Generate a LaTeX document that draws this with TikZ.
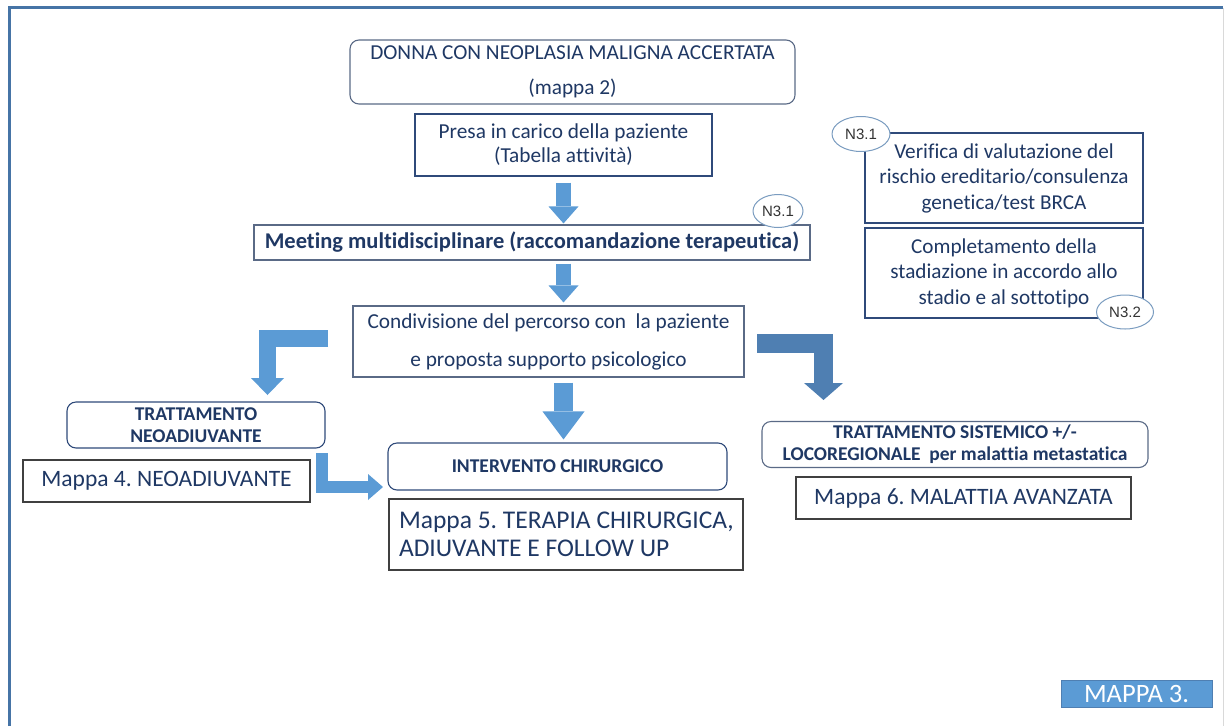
\documentclass[tikz,border=0pt]{standalone}
\usepackage{fontspec}
\setmainfont{Carlito}[Ligatures=CommonOff]
\newfontfamily\arialf{Liberation Sans}
\usetikzlibrary{arrows.meta,calc,shapes.geometric}
\definecolor{txt}{HTML}{1F3864}
\definecolor{abl}{HTML}{5B9BD5}
\definecolor{abd}{HTML}{4F7FB2}
\definecolor{frm}{HTML}{4674A6}
\definecolor{bnv}{HTML}{2F4A7A}
\definecolor{bgr}{HTML}{5A6A86}
\definecolor{ellc}{HTML}{7A9CC0}
\newcommand{\fs}[2]{\fontsize{#1}{#2}\selectfont}
\frenchspacing
\begin{document}
\begin{tikzpicture}[x=1pt,y=-1pt,
  box/.style={draw=bnv, line width=1.1pt, fill=white, inner sep=0pt, text=txt, align=center},
  rbox/.style={box, rounded corners=9pt},
  mbox/.style={draw=black!75, line width=1.1pt, fill=white, inner sep=0pt, text=txt, align=center},
  tag/.style={draw=ellc, line width=1pt, fill=white, ellipse, inner sep=0pt, text=black!80, font=\arialf\fs{15}{17}},
  fat/.style={draw=abl, line width=#1, line join=miter},
]
\useasboundingbox (0,0) rectangle (1225,726);
% frame
\draw[draw=black!15, line width=1pt] (1223,8) -- (1223,726);
\draw[draw=frm, line width=3.5pt] (9.5,726) -- (9.5,7.5) -- (1223,7.5);

% main column
\node[rbox, draw=bgr, minimum width=445pt, minimum height=64pt, font=\fs{21.3}{24}] (donna) at (572.5,72)
  {DONNA CON NEOPLASIA MALIGNA ACCERTATA\\[11pt](mappa 2)};
\node[box, minimum width=297pt, minimum height=62pt, font=\fs{21.3}{24}] (presa) at (563.5,145)
  {Presa in carico della paziente\\(Tabella attività)};
\node[box, draw=bgr, minimum width=556pt, minimum height=35pt, font=\bfseries\fs{22.5}{25}] (meeting) at (532,242.5)
  {Meeting multidisciplinare (raccomandazione terapeutica)};
\node[tag, minimum width=50pt, minimum height=33pt] (n31a) at (778,211) {N3.1};
\node[box, draw=bgr, minimum width=391pt, minimum height=71pt, font=\fs{21.3}{24}] (cond) at (548.5,341.5)
  {Condivisione del percorso con\ \ la paziente\\[14pt]e proposta supporto psicologico};

% left branch
\node[rbox, minimum width=258pt, minimum height=46pt, font=\bfseries\fs{19.5}{22}] (neo) at (196,425)
  {TRATTAMENTO\\NEOADIUVANTE};
\node[mbox, minimum width=287pt, minimum height=42pt, font=\fs{23.5}{27}] (m4) at (166.5,481)
  {Mappa 4. NEOADIUVANTE};

% center branch
\node[rbox, minimum width=339pt, minimum height=47pt, font=\bfseries\fs{19.5}{22}] (interv) at (557.5,466.5)
  {INTERVENTO CHIRURGICO};
\node[mbox, minimum width=354pt, minimum height=71pt, font=\fs{25.5}{27.5}] (m5) at (566,534.5)
  {\makebox[334pt][l]{Mappa 5. TERAPIA CHIRURGICA,}\\\makebox[334pt][l]{ADIUVANTE E FOLLOW UP}};

% right branch
\node[rbox, draw=bgr, minimum width=386pt, minimum height=46pt, font=\bfseries\fs{19.5}{22}] (sist) at (955,444.5)
  {TRATTAMENTO SISTEMICO +/-\\LOCOREGIONALE\ \ per malattia metastatica};
\node[mbox, minimum width=335pt, minimum height=42pt, font=\fs{23.5}{27}] (m6) at (963.5,498)
  {Mappa 6. MALATTIA AVANZATA};

% right side boxes
\node[box, minimum width=278pt, minimum height=90pt, font=\fs{21.2}{25.5}] (ver) at (1004,178)
  {Verifica di valutazione del\\rischio ereditario/consulenza\\genetica/test BRCA};
\node[box, minimum width=278pt, minimum height=90pt, font=\fs{21.2}{25.5}] (compl) at (1004,273)
  {Completamento della\\stadiazione in accordo allo\\stadio e al sottotipo};
\node[tag, minimum width=58pt, minimum height=35pt] (n31b) at (861,134) {N3.1};
\node[tag, minimum width=57pt, minimum height=34pt] (n32) at (1125,312) {N3.2};

% label
\node[fill=abl, draw=abd, line width=0.6pt, minimum width=151pt, minimum height=27pt, inner sep=0pt, text=white, font=\fs{26.5}{28}] (m3) at (1136.5,693.5) {MAPPA 3.};

% arrows
\coordinate (lbS) at (328,338.5);
\coordinate (lbE) at (267.5,395);
\coordinate (rbS) at (757,343.5);
\coordinate (rbE) at (823.5,400);
\coordinate (sbS) at (322,453);
\coordinate (sbE) at (383,487);

\draw[fat=15pt, -{Triangle[width=30pt,length=17pt,line width=0pt]}]
  ($(presa.south)+(0,6)$) -- ($(presa.south |- meeting.north)+(0,-1)$);
\draw[fat=15pt, -{Triangle[width=30pt,length=17pt,line width=0pt]}]
  ($(presa.south |- meeting.south)+(0,3)$) -- ($(presa.south |- cond.north)+(0,-3)$);
\draw[fat=19pt, -{Triangle[width=42pt,length=28pt,line width=0pt]}]
  ($(presa.south |- cond.south)+(0,5)$) -- ($(presa.south |- interv.north)+(0,-3)$);
\draw[fat=17pt, -{Triangle[width=33pt,length=17pt,line width=0pt]}] (lbS) -| (lbE);
\draw[fat=19pt, draw=abd, -{Triangle[width=39pt,length=17pt,line width=0pt]}] (rbS) -| (rbE);
\draw[fat=12pt, -{Triangle[width=26pt,length=15pt,line width=0pt]}] (sbS) |- (sbE);
\end{tikzpicture}
\end{document}
